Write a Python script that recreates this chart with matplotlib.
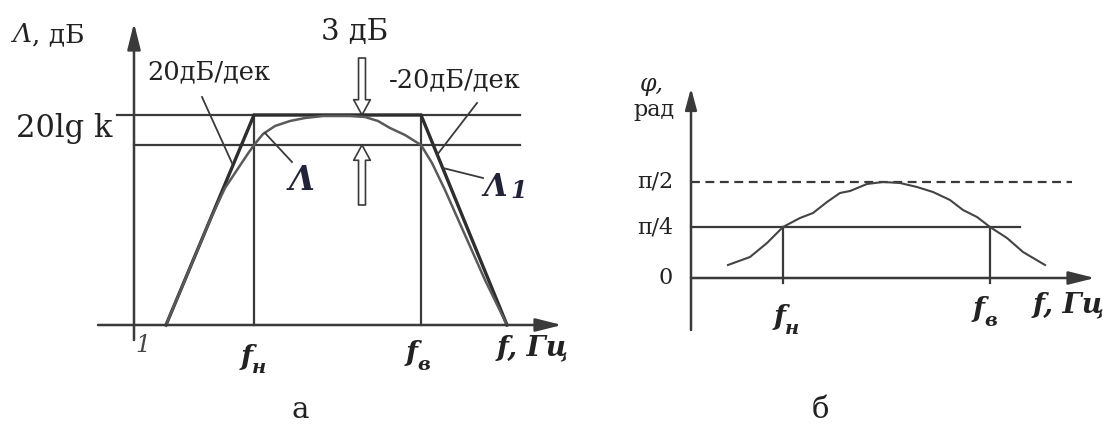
import matplotlib.pyplot as plt
from matplotlib.patches import FancyArrowPatch

plt.rcParams['font.family'] = ['DejaVu Serif']

INK = '#222222'
LINE = '#3a3a3a'

# --- а: ЛАЧХ (условные единицы, начало в пересечении осей) ---
fn_a, fv_a = 120, 287          # fн, fв
lvl_k, lvl_3db = 210, 180      # 20lg k и уровень -3 дБ
asym_x = [32, 120, 287, 373]   # асимптотическая Λ1
asym_y = [0, 210, 210, 0]
lam_x = [32, 56, 76, 91, 105, 113, 120, 129, 141, 156, 171, 189, 216, 231,
         244, 256, 271, 287, 298, 311, 331, 351, 373]
lam_y = [0, 57, 105, 137, 158, 170, 180, 191, 199, 204, 207, 209, 209, 208,
         204, 197, 190, 180, 162, 135, 90, 45, 0]

# --- б: ФЧХ ---
fn_b, fv_b = 92, 299
phi_ticks = [0, 51, 96]
phi_tick_labels = ['0', 'π/4', 'π/2']
phi_x = [37, 59, 76, 92, 109, 122, 136, 149, 159, 176, 192, 209, 226, 242,
         259, 272, 286, 299, 316, 332, 354]
phi_y = [13, 21, 35, 51, 60, 65, 76, 85, 87, 94, 96, 95, 91, 86,
         78, 68, 61, 51, 40, 26, 13]


def axis_arrow(ax, start, end, hl=1.6, hw=0.4):
    ax.annotate('', xy=end, xytext=start, annotation_clip=False,
                arrowprops=dict(arrowstyle=f'-|>,head_length={hl},head_width={hw}',
                                mutation_scale=10, lw=1.8, color=LINE,
                                shrinkA=0, shrinkB=0))


def hollow_arrow(ax, y0, y1, x):
    ax.add_patch(FancyArrowPatch((x, y0), (x, y1),
                 arrowstyle='simple,head_length=11,head_width=12,tail_width=5',
                 mutation_scale=1, fc='white', ec=LINE, lw=1.2,
                 shrinkA=0, shrinkB=0, clip_on=False))


def f_label(ax, x, y, sub, size=20):
    ax.text(x, y, 'f', fontsize=size, weight='bold', style='italic',
            ha='center', va='center', color=INK)
    ax.text(x + 12, y - 11, sub, fontsize=size * 0.7, weight='bold',
            style='italic', ha='center', va='center', color=INK)


fig = plt.figure(figsize=(11.06, 4.41), dpi=100)
fig.patch.set_facecolor('white')

# ---------------- а ----------------
ax1 = fig.add_axes([0, 0, 580 / 1106, 1])
ax1.set_xlim(-134, 446)
ax1.set_ylim(-116, 325)
ax1.axis('off')

ax1.plot([-17, 386], [lvl_k, lvl_k], color=LINE, lw=1.6)
ax1.plot([0, 386], [lvl_3db, lvl_3db], color=LINE, lw=1.6)
ax1.plot([fn_a, fn_a], [0, lvl_k], color=LINE, lw=1.6)
ax1.plot([fv_a, fv_a], [0, lvl_k], color=LINE, lw=1.6)
ax1.plot(asym_x, asym_y, color='#2e2e2e', lw=2.4, solid_joinstyle='miter')
ax1.plot(lam_x, lam_y, color='#5a5a5a', lw=1.8)

axis_arrow(ax1, (0, -15), (0, 302))
axis_arrow(ax1, (-36, 0), (428, 0))

# выноски
ax1.plot([68, 98], [228, 162], color=LINE, lw=1.3)
ax1.plot([343, 303], [222, 170], color=LINE, lw=1.3)
ax1.plot([131, 158], [192, 163], color=LINE, lw=1.3)
ax1.plot([309, 349], [157, 147], color=LINE, lw=1.3)

hollow_arrow(ax1, 267, lvl_k, 228)
hollow_arrow(ax1, 120, lvl_3db, 228)

ax1.text(-122, 290, 'Λ', fontsize=19, style='italic', ha='left', va='center', color=INK)
ax1.text(-102, 290, ', дБ', fontsize=19, ha='left', va='center', color=INK)
ax1.text(-22, 197, '20lg k', fontsize=22, ha='right', va='center', color=INK)
ax1.text(75, 253, '20дБ/дек', fontsize=18.5, ha='center', va='center', color=INK)
ax1.text(221, 293, '3 дБ', fontsize=21, ha='center', va='center', color=INK)
ax1.text(321, 245, '-20дБ/дек', fontsize=18.5, ha='center', va='center', color=INK)
ax1.text(168, 145, 'Λ', fontsize=24, style='italic', weight='bold',
         ha='center', va='center', color='#22223a')
ax1.text(361, 138, 'Λ', fontsize=22, style='italic', weight='bold',
         ha='center', va='center', color='#22223a')
ax1.text(385, 134, '1', fontsize=17, style='italic', weight='bold',
         ha='center', va='center', color='#22223a')
ax1.text(9, -20, '1', fontsize=17, style='italic', ha='center', va='center', color='#444444')

f_label(ax1, 113, -32, 'н')
f_label(ax1, 278, -29, 'в')
ax1.text(363, -23, 'f, Гц', fontsize=20, weight='bold', style='italic',
         ha='left', va='center', color=INK)

# ---------------- б ----------------
ax2 = fig.add_axes([560 / 1106, 0, 546 / 1106, 1])
ax2.set_xlim(-131, 415)
ax2.set_ylim(-163, 278)
ax2.axis('off')

ax2.plot([0, 381], [phi_ticks[2]] * 2, color=LINE, lw=1.6, ls=(0, (4, 2.5)))
ax2.plot([0, 329], [phi_ticks[1]] * 2, color=LINE, lw=1.6)
ax2.plot([fn_b, fn_b], [-5, phi_ticks[1]], color=LINE, lw=1.6)
ax2.plot([fv_b, fv_b], [-5, phi_ticks[1]], color=LINE, lw=1.6)
ax2.plot(phi_x, phi_y, color='#444444', lw=1.5)

axis_arrow(ax2, (0, -52), (0, 190), hl=1.3, hw=0.35)
axis_arrow(ax2, (0, 0), (404, 0))

for y, lab in zip(phi_ticks, phi_tick_labels):
    ax2.text(-18, y, lab, fontsize=16, ha='right', va='center', color=INK)

ax2.text(-51, 193, 'φ,', fontsize=17, style='italic', ha='left', va='center', color=INK)
ax2.text(-37, 168, 'рад', fontsize=16, ha='center', va='center', color=INK)

f_label(ax2, 89, -40, 'н')
f_label(ax2, 288, -32, 'в')
ax2.text(342, -27, 'f, Гц', fontsize=20, weight='bold', style='italic',
         ha='left', va='center', color=INK)

fig.text(300 / 1106, 1 - 410 / 441, 'а', fontsize=21, ha='center', va='center', color=INK)
fig.text(820 / 1106, 1 - 410 / 441, 'б', fontsize=21, ha='center', va='center', color=INK)

fig.savefig('out.png', dpi=100, facecolor='white')
